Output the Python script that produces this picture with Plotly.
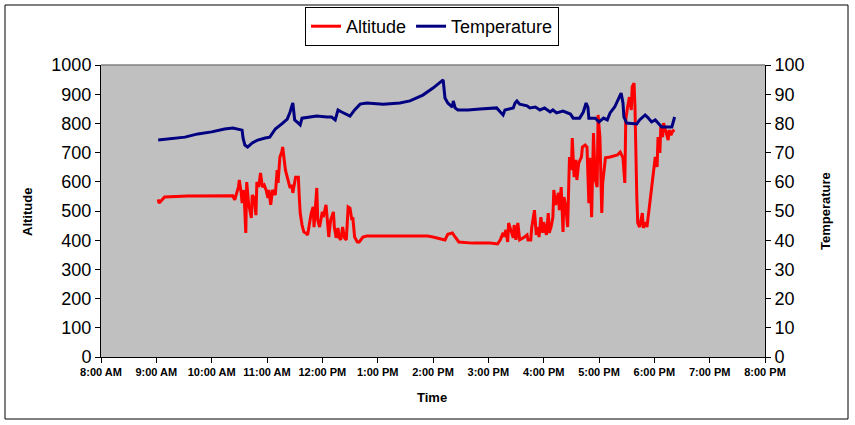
import pandas as pd
import plotly.graph_objects as go

# ---- data ----
alt_times = ["09:02", "09:03", "09:09", "09:34", "10:23", "10:25", "10:29", "10:30", "10:32", "10:33",
             "10:35", "10:37", "10:38", "10:40", "10:43", "10:44", "10:46", "10:48", "10:49", "10:51",
             "10:53", "10:55", "10:57", "10:59", "11:01", "11:02", "11:04", "11:06", "11:09", "11:11",
             "11:12", "11:14", "11:16", "11:17", "11:20", "11:22", "11:23", "11:25", "11:27", "11:28",
             "11:31", "11:34", "11:35", "11:36", "11:38", "11:40", "11:42", "11:44", "11:48", "11:50",
             "11:51", "11:54", "11:55", "11:57", "12:00", "12:01", "12:04", "12:06", "12:07", "12:09",
             "12:12", "12:13", "12:15", "12:17", "12:18", "12:20", "12:22", "12:24", "12:26", "12:28",
             "12:30", "12:32", "12:33", "12:35", "12:38", "12:40", "12:44", "12:48", "13:54", "14:00",
             "14:13", "14:16", "14:21", "14:24", "14:28", "14:43", "15:02", "15:10", "15:13", "15:16",
             "15:17", "15:19", "15:21", "15:22", "15:25", "15:27", "15:28", "15:30", "15:32", "15:34",
             "15:38", "15:42", "15:43", "15:46", "15:47", "15:50", "15:52", "15:54", "15:55", "15:57",
             "15:59", "16:00", "16:03", "16:05", "16:06", "16:08", "16:10", "16:11", "16:13", "16:16",
             "16:17", "16:19", "16:21", "16:22", "16:24", "16:26", "16:28", "16:30", "16:31", "16:33",
             "16:35", "16:36", "16:38", "16:41", "16:42", "16:45", "16:47", "16:49", "16:50", "16:52",
             "16:54", "16:56", "16:58", "16:59", "17:01", "17:03", "17:04", "17:07", "17:12", "17:20",
             "17:23", "17:26", "17:28", "17:29", "17:31", "17:33", "17:35", "17:36", "17:38", "17:39",
             "17:41", "17:42", "17:44", "17:47", "17:48", "17:50", "17:52", "17:55", "17:57", "17:59",
             "18:01", "18:03", "18:04", "18:06", "18:07", "18:09", "18:10", "18:13", "18:15", "18:16",
             "18:18", "18:20", "18:22"]
altitude = [540, 527, 548, 551, 552, 538, 582, 606, 562, 527,
            572, 425, 599, 527, 476, 555, 545, 486, 599, 582,
            630, 582, 589, 572, 545, 572, 521, 572, 555, 640,
            596, 685, 702, 719, 640, 616, 596, 579, 589, 562,
            616, 616, 548, 493, 452, 428, 425, 418, 493, 514,
            445, 579, 469, 445, 497, 479, 521, 435, 411, 469,
            497, 445, 408, 442, 411, 401, 445, 408, 401, 514,
            510, 469, 479, 411, 394, 394, 411, 414, 414, 411,
            401, 420, 425, 411, 394, 390, 390, 387, 401, 425,
            411, 435, 394, 459, 425, 408, 452, 401, 459, 401,
            408, 418, 401, 401, 442, 503, 418, 445, 411, 479,
            425, 462, 418, 493, 425, 445, 479, 572, 521, 562,
            503, 582, 428, 548, 514, 445, 685, 640, 750, 616,
            675, 606, 664, 685, 719, 726, 719, 527, 682, 479,
            767, 606, 582, 829, 753, 493, 596, 682, 685, 692,
            702, 682, 596, 812, 856, 890, 846, 925, 938, 856,
            548, 459, 445, 493, 442, 462, 445, 527, 596, 640,
            685, 651, 753, 699, 788, 753, 801, 767, 743, 777,
            760, 774, 777]

temp_times = ["09:02", "09:17", "09:31", "09:45", "10:00", "10:14", "10:23", "10:33", "10:34", "10:36",
              "10:39", "10:44", "10:50", "10:58", "11:03", "11:09", "11:12", "11:17", "11:22", "11:25",
              "11:28", "11:30", "11:34", "11:36", "11:38", "11:50", "11:54", "12:05", "12:10", "12:14",
              "12:17", "12:21", "12:25", "12:30", "12:35", "12:41", "12:48", "13:06", "13:24", "13:35",
              "13:49", "14:00", "14:11", "14:13", "14:16", "14:21", "14:22", "14:24", "14:27", "14:38",
              "14:51", "15:09", "15:13", "15:16", "15:18", "15:27", "15:29", "15:31", "15:34", "15:42",
              "15:45", "15:51", "15:56", "16:01", "16:07", "16:10", "16:14", "16:21", "16:29", "16:32",
              "16:39", "16:43", "16:46", "16:48", "16:49", "16:56", "17:00", "17:03", "17:05", "17:09",
              "17:12", "17:17", "17:21", "17:24", "17:26", "17:27", "17:30", "17:36", "17:41", "17:44",
              "17:50", "17:53", "17:57", "18:01", "18:04", "18:08", "18:19", "18:20", "18:22"]
temperature = [74.3, 74.7, 75.3, 76.4, 77.1, 78.1, 78.4, 77.7, 75.0, 72.6,
               71.9, 73.3, 74.3, 75.0, 75.3, 78.1, 78.8, 80.1, 81.5, 83.9,
               87.0, 81.2, 80.1, 79.5, 81.8, 82.2, 82.5, 82.2, 82.2, 81.2,
               84.6, 83.9, 83.2, 82.5, 84.6, 86.6, 87.0, 86.6, 87.0, 87.7,
               89.7, 92.1, 94.9, 88.7, 87.0, 85.6, 87.7, 85.3, 84.6, 84.6,
               84.9, 85.3, 83.9, 82.9, 84.6, 85.3, 87.0, 87.7, 86.6, 86.0,
               85.3, 85.6, 84.6, 85.3, 83.9, 84.6, 83.6, 84.2, 83.2, 81.8,
               81.8, 83.9, 87.0, 85.5, 81.8, 81.8, 80.5, 81.2, 81.8, 81.2,
               83.6, 85.6, 88.1, 90.4, 87.0, 82.2, 80.1, 79.8, 79.8, 81.2,
               82.9, 82.0, 80.5, 81.2, 80.1, 78.8, 78.8, 80.1, 82.2]

x_title = "Time"
y_title = "Altitude"
y2_title = "Temperature"

day = "2000-01-01 "
alt_x = pd.to_datetime([day + t for t in alt_times])
temp_x = pd.to_datetime([day + t for t in temp_times])

FONT = "Liberation Sans, Arial, sans-serif"

fig = go.Figure()
fig.add_trace(go.Scatter(x=alt_x, y=altitude, name="Altitude", mode="lines",
                         line=dict(color="#FF0000", width=3), yaxis="y"))
fig.add_trace(go.Scatter(x=temp_x, y=temperature, name="Temperature", mode="lines",
                         line=dict(color="#000080", width=3), yaxis="y2"))

W, H = 855, 425
L, R, T, B = 101, 765, 65, 357
pw, ph = R - L, B - T


def px(xp):
    return (xp - L) / pw


def py(yp):
    return (B - yp) / ph


axis_common = dict(showgrid=False, zeroline=False,
                   showline=True, linecolor="black", linewidth=1,
                   ticks="outside", ticklen=5, tickcolor="black")

fig.update_layout(
    width=W, height=H,
    margin=dict(l=L, r=W - R, t=T, b=H - B, pad=0, autoexpand=False),
    paper_bgcolor="white",
    plot_bgcolor="#C0C0C0",
    font=dict(family=FONT, color="black"),
    showlegend=True,
    legend=dict(orientation="h", x=px(432), xanchor="center", y=py(7), yanchor="top",
                bgcolor="white", bordercolor="black", borderwidth=1,
                font=dict(size=18, family=FONT), itemwidth=30, tracegroupgap=0),
    xaxis=dict(type="date",
               range=[day + "08:00", day + "20:00"],
               dtick=3600000, tick0=day + "08:00",
               tickformat="%-I:%M %p",
               tickfont=dict(size=11, family=FONT, weight="bold"),
               **axis_common),
    yaxis=dict(range=[0, 1000], dtick=100, tickfont=dict(size=18, family=FONT), **axis_common),
    yaxis2=dict(range=[0, 100], dtick=10, overlaying="y", side="right",
                tickfont=dict(size=18, family=FONT), **axis_common),
    annotations=[
        dict(text="<b>%s</b>" % x_title, xref="paper", yref="paper", x=px(432), y=py(397),
             xanchor="center", yanchor="middle", showarrow=False, font=dict(size=13, family=FONT)),
        dict(text="<b>%s</b>" % y_title, xref="paper", yref="paper", x=px(27), y=py(212),
             xanchor="center", yanchor="middle", showarrow=False, textangle=-90,
             font=dict(size=13, family=FONT)),
        dict(text="<b>%s</b>" % y2_title, xref="paper", yref="paper", x=px(825), y=py(211),
             xanchor="center", yanchor="middle", showarrow=False, textangle=-90,
             font=dict(size=13, family=FONT)),
    ],
    shapes=[
        dict(type="rect", xref="paper", yref="paper", x0=px(5), x1=px(848), y0=py(419), y1=py(5),
             line=dict(color="black", width=1), fillcolor="rgba(0,0,0,0)", layer="below"),
        dict(type="line", xref="paper", yref="paper", x0=0, x1=1, y0=1, y1=1,
             line=dict(color="#808080", width=1.5)),
    ],
)

fig.write_html("out.html", config={"displayModeBar": False},
               post_script="document.body.style.margin='0';document.body.style.padding='0';")
